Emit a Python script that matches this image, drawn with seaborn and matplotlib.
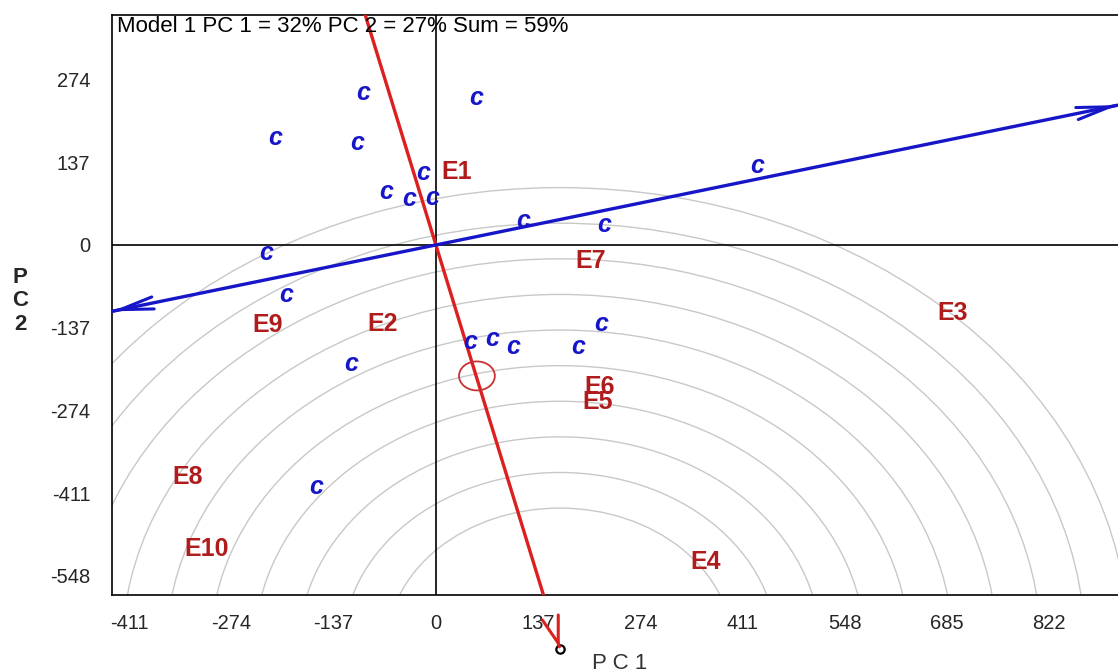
import numpy as np
import matplotlib.pyplot as plt
from matplotlib.patches import Circle
import seaborn as sns

# environment scores (PC1, PC2)
env_labels = ["E1", "E2", "E3", "E4", "E5", "E6", "E7", "E8", "E9", "E10"]
env_pc1 = [28, -72, 692, 361, 217, 219, 208, -332, -225, -307]
env_pc2 = [121, -131, -113, -526, -260, -236, -27, -385, -133, -504]

# genotype scores, every genotype is plotted with the label "c"
gen_pc1 = [-98, 54, -216, -105, -17, -66, -36, -5, 430, 117,
           225, -228, -200, 222, 46, 76, 103, 190, -113, -160]
gen_pc2 = [252, 244, 177, 169, 119, 88, 76, 78, 131, 40,
           33, -13, -83, -131, -161, -156, -169, -169, -197, -401]

avg_env = (55, -217)      # average environment (small red circle)
ideal = (166, -668)       # ideal point, centre of the concentric circles
ring_radii = [232, 291, 350, 409, 468, 527, 586, 645, 704, 763]

x_ticks = [-411, -274, -137, 0, 137, 274, 411, 548, 685, 822]
y_ticks = [-548, -411, -274, -137, 0, 137, 274]
title = "Model 1 PC 1 = 32% PC 2 = 27% Sum = 59%"

sns.set_style("white")
plt.rcParams['font.family'] = ['Liberation Sans', 'DejaVu Sans']

RED = "#dc1f1f"
DARKRED = "#b01c1c"
BLUE = "#1616c8"

fig = plt.figure(figsize=(11.18, 6.70), dpi=100)
ax = fig.add_axes([112 / 1118, 75 / 670, 1006 / 1118, 580 / 670])
xlim = (-434, 914)
ylim = (-580, 381)
ax.set_xlim(*xlim)
ax.set_ylim(*ylim)

# concentric circles around the ideal point
for r in ring_radii:
    ax.add_patch(Circle(ideal, r, fill=False, ec="#c8c8c8", lw=1.0, zorder=1))

ax.axhline(0, color="black", lw=1.2, zorder=2)
ax.axvline(0, color="black", lw=1.2, zorder=2)

# average environment axis (red) through origin and ideal point
red_x = [-0.7 * ideal[0], ideal[0]]
red_y = [-0.7 * ideal[1], ideal[1]]
sns.lineplot(x=red_x, y=red_y, sort=False, color=RED, lw=2.4, ax=ax, zorder=3)
ax.annotate("", xy=ideal, xytext=(ideal[0] - 0.5, ideal[1] + 2),
            annotation_clip=False,
            arrowprops=dict(arrowstyle="->, head_length=0.97, head_width=0.30",
                            mutation_scale=20, color=RED, lw=2.2,
                            shrinkA=0, shrinkB=0))
ax.plot(ideal[0], ideal[1] - 2, marker="o", ms=6, mfc="none", mec="black",
        mew=1.6, clip_on=False)

# perpendicular axis (blue)
slope = -avg_env[0] / avg_env[1]
blue_x = [xlim[0], xlim[1]]
blue_y = [slope * xlim[0], slope * xlim[1]]
sns.lineplot(x=blue_x, y=blue_y, sort=False, color=BLUE, lw=2.4, ax=ax, zorder=3)
for bx, by in zip(blue_x, blue_y):
    ax.annotate("", xy=(bx, by), xytext=(bx * 0.995, by * 0.995),
                annotation_clip=False,
                arrowprops=dict(arrowstyle="->, head_length=1.2, head_width=0.22",
                                mutation_scale=20, color=BLUE, lw=2.2,
                                shrinkA=0, shrinkB=0))

ax.add_patch(Circle(avg_env, 24, fill=False, ec="#c83232", lw=1.3, zorder=4))

for x, y in zip(gen_pc1, gen_pc2):
    ax.text(x, y, "c", color=BLUE, fontsize=18, fontweight="bold",
            fontstyle="italic", ha="center", va="center", zorder=5)

for lab, x, y in zip(env_labels, env_pc1, env_pc2):
    ax.text(x, y, lab, color=DARKRED, fontsize=18, fontweight="bold",
            ha="center", va="center", zorder=5)

ax.text(0.005, 0.998, title, transform=ax.transAxes, ha="left", va="top",
        fontsize=16, color="black", zorder=6)

ax.set_xticks(x_ticks)
ax.set_yticks(y_ticks)
ax.set_xticklabels([str(v) for v in x_ticks], fontsize=14.5)
ax.set_yticklabels([str(v) for v in y_ticks], fontsize=14.5)
ax.tick_params(axis="x", direction="out", length=9.5, width=1, pad=4)
ax.tick_params(axis="y", direction="out", length=11.5, width=1, pad=4)
sns.despine(ax=ax, right=True, top=False)
for side in ["left", "top", "bottom"]:
    ax.spines[side].set_color("black")
    ax.spines[side].set_linewidth(1.2)

fig.text(20 / 1118, 1 - 301 / 670, "P\nC\n2", ha="center", va="center",
         fontsize=16, fontweight="bold", linespacing=1.15)
fig.text(620 / 1118, 17 / 670, "P C 1", ha="center", va="top",
         fontsize=16, color="#333333")

fig.savefig("out.png", dpi=100)
